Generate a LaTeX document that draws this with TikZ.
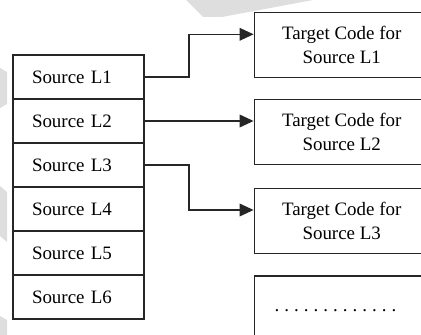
\documentclass[tikz,border=0pt]{standalone}
\usepackage{fontspec}
\setmainfont{Liberation Serif}
\usetikzlibrary{arrows.meta,calc}

% a row of evenly spaced dots, each in a cell of fixed width
\newcommand{\dotrow}{\foreach \k in {1,...,13}{\makebox[7.31pt]{.}}}

\begin{document}
\begin{tikzpicture}[x=0.75pt,y=-0.75pt,
  ink/.style={draw=black!85,line width=0.9pt},
  srcrow/.style={ink,rectangle,minimum width=98.25pt,minimum height=33pt,
    inner xsep=14.25pt,inner ysep=0pt,text width=69.75pt,align=left,
    font=\fontsize{14.2}{18}\selectfont},
  tgtbox/.style={ink,rectangle,minimum width=131.25pt,minimum height=48.75pt,
    inner sep=0pt,align=center,font=\fontsize{14.2}{18}\selectfont},
  link/.style={draw=black!85,line width=1pt,-{Triangle[length=10.5pt,width=9.5pt]}},
  wmark/.style={fill=black!13,draw=none}]

  \useasboundingbox (0,0) rectangle (421,335);
  \clip (0,0) rectangle (421,335);

  % faint watermark strokes in the background
  \fill[wmark] (186,0) -- (203,17) -- (222,17) -- (313,0) -- cycle;
  \fill[wmark] (0,68) -- (7,72) -- (7,104) -- (0,108) -- cycle;
  \fill[wmark] (0,186) -- (7,192) -- (7,242) -- (0,236) -- cycle;
  \fill[wmark] (0,316) -- (7,320) -- (7,335) -- (0,335) -- cycle;

  % source lines stacked in one column
  \node[srcrow] (s1) at (78.5,77)    {Source L1};
  \node[srcrow] (s2) at (78.5,121)   {Source L2};
  \node[srcrow] (s3) at (78.5,165)   {Source L3};
  \node[srcrow] (s4) at (78.5,209)   {Source L4};
  \node[srcrow] (s5) at (78.5,253)   {Source L5};
  \node[srcrow] (s6) at (78.5,297)   {Source L6};

  % generated target code blocks
  \node[tgtbox] (t1) at (341.7,45.2)  {Target Code for\\Source L1};
  \node[tgtbox] (t2) at (341.7,132.2) {Target Code for\\Source L2};
  \node[tgtbox] (t3) at (341.7,220.8) {Target Code for\\Source L3};
  \node[tgtbox] (t4) at (341.7,308.5) {};
  \node[font=\fontsize{14.2}{18}\selectfont,inner sep=0pt,anchor=base]
    (dots) at (335.5,311) {\dotrow};

  % translation links
  \coordinate (j1) at (189,34.3);
  \coordinate (j3) at (189,210);
  \draw[link] (s1.east) -| (j1) -- (j1 -| t1.west);
  \draw[link] (s2.east) -- (s2.east -| t2.west);
  \draw[link] (s3.east) -| (j3) -- (j3 -| t3.west);
\end{tikzpicture}
\end{document}
